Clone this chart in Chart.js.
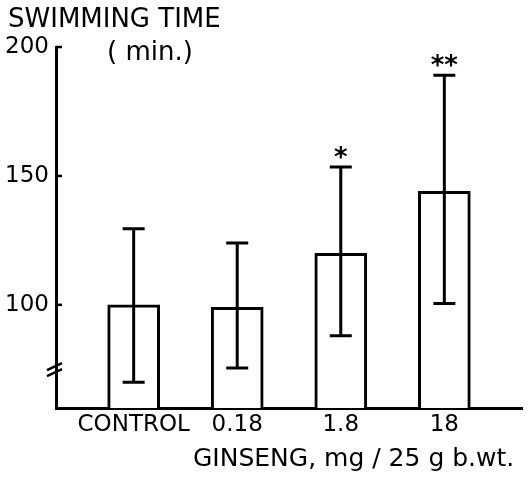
<!DOCTYPE html>
<html><head><meta charset="utf-8">
<script src="https://cdn.jsdelivr.net/npm/chart.js@4"></script>
<style>html,body{margin:0;padding:0;background:#fff}#wrap{width:531px;height:483px;position:relative}</style>
</head><body>
<div id="wrap"><canvas id="c"></canvas></div>
<script>
const categories = ['CONTROL', '0.18', '1.8', '18'];
const means = [100, 99, 120, 144];
const errLow = [70, 75.5, 88, 100.5];
const errHigh = [129.5, 124, 153.5, 189];
const significance = ['', '', '*', '**'];
const yTickValues = [100, 150, 200];
const yTitle = 'SWIMMING TIME';
const yUnit = '( min.)';
const xTitle = 'GINSENG, mg / 25 g b.wt.';

const FONT = "'DejaVu Sans', sans-serif";

const extras = {
  id: 'extras',
  afterDatasetsDraw(chart) {
    const ctx = chart.ctx;
    const xs = chart.scales.x, ys = chart.scales.y;
    ctx.save();
    ctx.strokeStyle = '#000';
    ctx.fillStyle = '#000';
    ctx.lineWidth = 3;
    ctx.lineCap = 'butt';
    // error bars
    for (let i = 0; i < categories.length; i++) {
      const x = xs.getPixelForValue(i);
      const yl = ys.getPixelForValue(errLow[i]);
      const yh = ys.getPixelForValue(errHigh[i]);
      ctx.beginPath();
      ctx.moveTo(x, yl); ctx.lineTo(x, yh);
      ctx.moveTo(x - 11, yl); ctx.lineTo(x + 11, yl);
      ctx.moveTo(x - 11, yh); ctx.lineTo(x + 11, yh);
      ctx.stroke();
      if (significance[i]) {
        ctx.font = "bold 26px " + FONT;
        ctx.textAlign = 'center';
        ctx.textBaseline = 'alphabetic';
        ctx.fillText(significance[i], x, yh - 1);
      }
    }
    // inward tick marks
    const ax = chart.chartArea.left;
    ctx.lineWidth = 2.5;
    yTickValues.forEach(v => {
      const y = ys.getPixelForValue(v);
      ctx.beginPath(); ctx.moveTo(ax, y); ctx.lineTo(ax + 6, y); ctx.stroke();
    });
    // axis break
    const yb = ys.getPixelForValue(75.5);
    ctx.lineWidth = 2.5;
    ctx.beginPath();
    ctx.moveTo(ax - 9, yb + 2); ctx.lineTo(ax + 6, yb - 5);
    ctx.moveTo(ax - 9, yb + 8); ctx.lineTo(ax + 6, yb + 1);
    ctx.stroke();
    // texts
    ctx.textAlign = 'left';
    ctx.textBaseline = 'middle';
    ctx.font = "26px " + FONT;
    ctx.fillText(yTitle, 8, 20);
    ctx.fillText(yUnit, 107, 53);
    ctx.font = "25px " + FONT;
    ctx.fillText(xTitle, 193, 459);
    ctx.restore();
  }
};

new Chart(document.getElementById('c'), {
  type: 'bar',
  data: {
    datasets: [{
      data: means.map((v, i) => ({ x: i, y: v })),
      backgroundColor: '#fff',
      borderColor: '#000',
      borderWidth: 3,
      borderSkipped: 'bottom',
      barThickness: 52
    }]
  },
  options: {
    responsive: true,
    maintainAspectRatio: false,
    animation: false,
    layout: { padding: { top: 47, right: 9, left: 0, bottom: 0 } },
    plugins: { legend: { display: false }, tooltip: { enabled: false } },
    scales: {
      x: {
        type: 'linear',
        offset: false,
        bounds: 'ticks',
        min: -0.75, max: 3.75,
        afterBuildTicks: s => { s.ticks = categories.map((c, i) => ({ value: i })); },
        afterFit: s => { s.height = 75; },
        grid: { display: false, drawTicks: false, offset: false },
        border: { display: true, color: '#000', width: 3 },
        ticks: {
          padding: 3,
          color: '#000',
          font: { family: FONT, size: 23 },
          callback: (v) => categories[Math.round(v)] ?? ''
        }
      },
      y: {
        min: 60, max: 200,
        afterBuildTicks: s => { s.ticks = yTickValues.map(v => ({ value: v })); },
        afterFit: s => { s.width = 56; },
        grid: { display: false, drawTicks: false },
        border: { display: true, color: '#000', width: 3 },
        ticks: {
          padding: 7,
          color: '#000',
          font: { family: FONT, size: 23 }
        }
      }
    }
  },
  plugins: [extras]
});
</script>
</body></html>
